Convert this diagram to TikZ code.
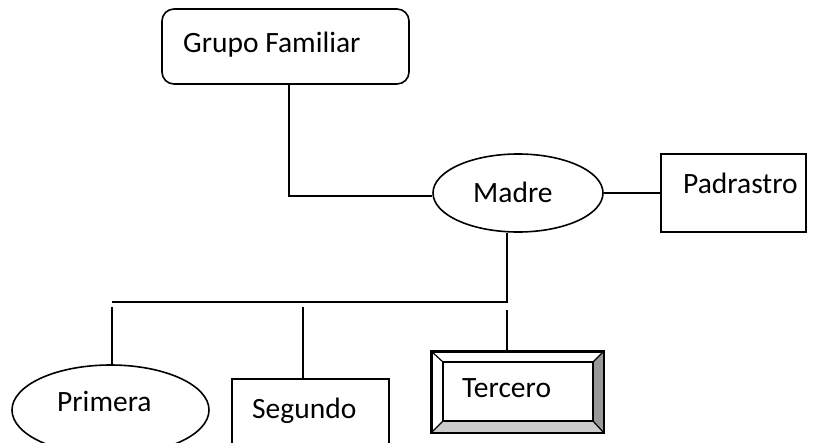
\documentclass[tikz,border=0pt]{standalone}
\usepackage{fontspec}
\setmainfont{Carlito}
\usetikzlibrary{shapes.geometric}
\begin{document}
\begin{tikzpicture}[x=1pt,y=-1pt,
  ln/.style={line width=1.6pt,black},
  boxshape/.style={draw,line width=1.6pt,rectangle,inner sep=0pt,minimum width=#1},
  ellshape/.style={draw,line width=1.6pt,ellipse,inner sep=0pt},
  txt/.style={anchor=base west,inner sep=0pt,font=\fontsize{29.5}{35}\selectfont}]
\clip (0,0) rectangle (824,442);
\fill[white] (0,0) rectangle (824,442);
% shapes
\node[boxshape=247pt,rounded corners=12pt,minimum height=75pt] (gf) at (285.5,46.5) {};
\node[ellshape,minimum width=170pt,minimum height=78pt] (madre) at (518,193) {};
\node[boxshape=145pt,minimum height=78pt] (pad) at (733.5,193) {};
\node[ellshape,minimum width=197pt,minimum height=90pt] (pri) at (110.5,410) {};
\node[boxshape=157pt,minimum height=82pt] (seg) at (310.5,420) {};
% Tercero bevelled box
\node[boxshape=171pt,minimum height=80pt] (ter) at (517.5,392) {};
\coordinate (iNW) at (443,362);
\coordinate (iNE) at (593,362);
\coordinate (iSE) at (593,421);
\coordinate (iSW) at (443,421);
\fill[black!40] (ter.north east) -- (ter.south east) -- (iSE) -- (iNE) -- cycle;
\fill[black!20] (ter.south west) -- (ter.south east) -- (iSE) -- (iSW) -- cycle;
\draw[line width=1.6pt] (ter.north west) rectangle (ter.south east);
\draw[line width=1.2pt] (iNW) rectangle (iSE);
\draw[line width=1.2pt] (ter.north west) -- (iNW) (ter.north east) -- (iNE)
  (ter.south east) -- (iSE) (ter.south west) -- (iSW);
% texts
\node[txt] (tgf) at (183,52) {Grupo Familiar};
\node[txt] (tma) at (473,202) {Madre};
\node[txt] (tpa) at (683,193) {Padrastro};
\node[txt] (tpr) at (57,411) {Primera};
\node[txt] (tse) at (252,418) {Segundo};
\node[txt] (tte) at (462,397) {Tercero};
% connectors
\coordinate (c1) at (289,196);
\draw[ln] (gf.south -| c1) -- (c1) -- (c1 -| madre.west);
\draw[ln] (madre.east) -- (pad.west);
\coordinate (mb) at (507,302);
\coordinate (hl) at (112,302);
\draw[ln] (madre.south -| mb) -- (mb) -- (hl);
\coordinate (d1) at (112,307);
\coordinate (d2) at (303,307);
\coordinate (d3) at (507,310);
\draw[ln] (d1) -- (pri.north -| d1);
\draw[ln] (d2) -- (seg.north -| d2);
\draw[ln] (d3) -- (ter.north -| d3);
\end{tikzpicture}
\end{document}
